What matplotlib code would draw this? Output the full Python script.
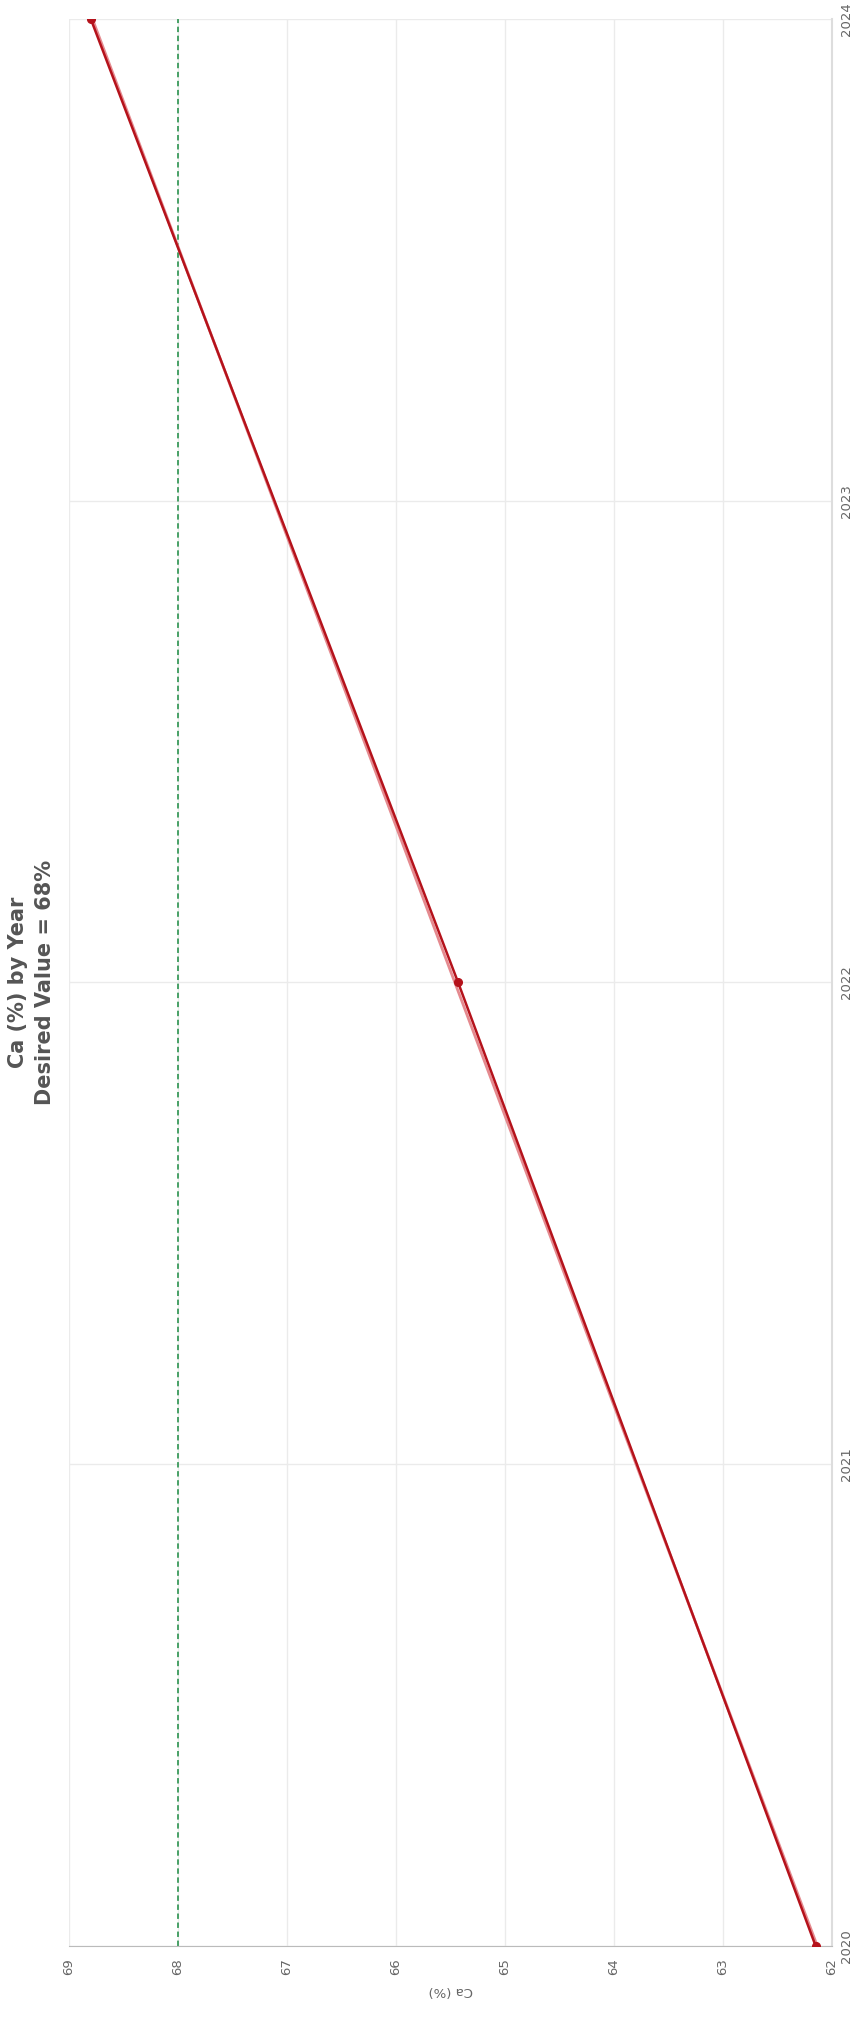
import numpy as np
import matplotlib
matplotlib.use("Agg")
from matplotlib import pyplot as plt

# data (chart is drawn rotated: value axis runs horizontally, years vertically)
years = [2020, 2022, 2024]
ca_values = [62.15, 65.43, 68.8]
desired_value = 68
value_ticks = [62, 63, 64, 65, 66, 67, 68, 69]
year_ticks = [2020, 2021, 2022, 2023, 2024]
title_lines = ["Ca (%) by Year", "Desired Value = 68%"]
value_label = "Ca (%)"

LINE_RED = "#b5121b"
TREND_RED = "#e58a8f"
GREEN = "#3a9a5b"
GRID = "#ebebeb"
TXT = "#666666"

fig = plt.figure(figsize=(8.57, 20.18), dpi=100)
ax = fig.add_axes([0.0805, 0.0357, 0.8903, 0.9549])

# linear trend of the series, drawn underneath
coef = np.polyfit(years, ca_values, 1)
trend = np.polyval(coef, years)
ax.plot(trend, years, color=TREND_RED, lw=2, zorder=2)
ax.plot(ca_values, years, color=LINE_RED, lw=1.8, marker="o", ms=5.5, zorder=3)

ax.axvline(desired_value, color=GREEN, lw=1.3, ls=(0, (3, 2)), zorder=1)

ax.set_xlim(69, 62)
ax.set_ylim(2020, 2024)
ax.set_xticks(value_ticks)
ax.set_xticklabels([str(v) for v in value_ticks], rotation=90)
ax.set_yticks(year_ticks)
ax.set_yticklabels([str(y) for y in year_ticks], rotation=90, va="center")
ax.yaxis.tick_right()
ax.tick_params(axis="both", length=0, colors=TXT, labelsize=9.5)
ax.tick_params(axis="x", pad=9)
ax.tick_params(axis="y", pad=6)

ax.grid(True, color=GRID, lw=1, zorder=0)
ax.set_axisbelow(True)
for side in ["top", "left"]:
    ax.spines[side].set_visible(False)
ax.spines["bottom"].set_color("#bbbbbb")
ax.spines["right"].set_color("#dddddd")
ax.spines["right"].set_linewidth(1.5)

ax.set_xlabel(value_label, rotation=180, color=TXT, fontsize=9.5, labelpad=6)

fig.text(0.021, 0.513, title_lines[0], rotation=90, ha="center", va="center",
         fontsize=15, fontweight="bold", color="#555555")
fig.text(0.0525, 0.513, title_lines[1], rotation=90, ha="center", va="center",
         fontsize=15, fontweight="bold", color="#555555")

fig.savefig("out.png", dpi=100)
